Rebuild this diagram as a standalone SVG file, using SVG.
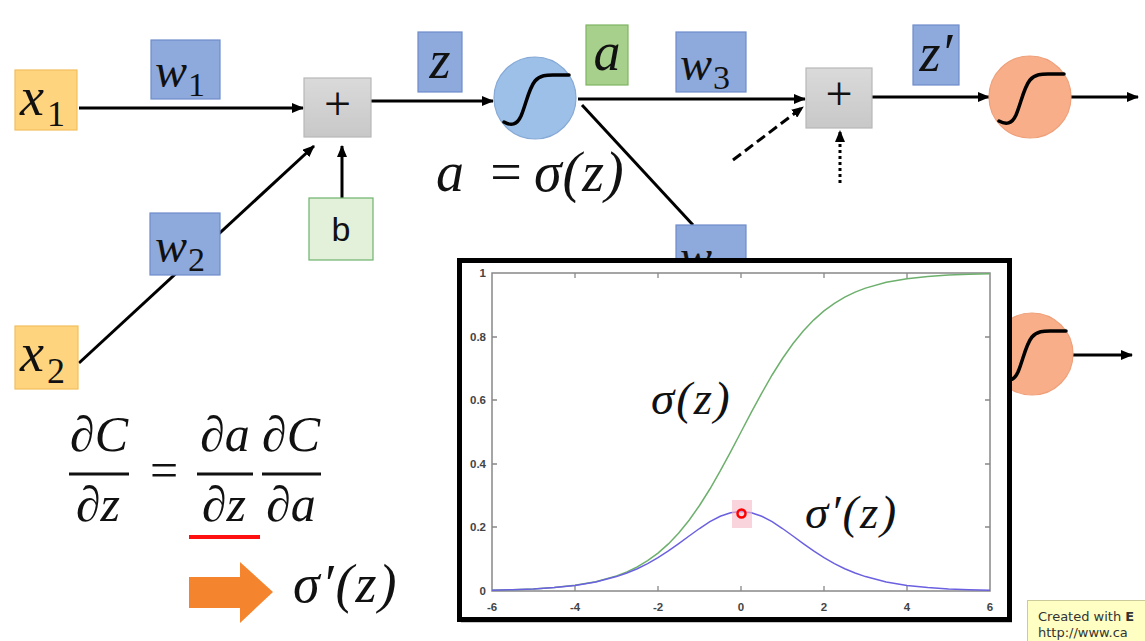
<svg xmlns="http://www.w3.org/2000/svg" width="1145" height="641" viewBox="0 0 1145 641">
<defs>
<style>
.mi{font-family:"Liberation Serif","DejaVu Serif",serif;font-style:italic;fill:#111}
.mn{font-family:"Liberation Serif","DejaVu Serif",serif;fill:#111}
.yel{fill:#FFD47E;stroke:#F2BE5C;stroke-width:1.2}
.blu{fill:#8EA9DC;stroke:#6F8CCB;stroke-width:1.2}
.gry{fill:url(#gg);stroke:#B8B8B8;stroke-width:1.2}
.grn{fill:#E3F1DA;stroke:#6DB26D;stroke-width:1.2}
.grn2{fill:#A7D08C;stroke:#7FB462;stroke-width:1.2}
.con{stroke:#000;stroke-width:3;fill:none}
.sig{stroke:#000;stroke-width:3.5;fill:none;stroke-linecap:round}
.tick{font-family:"Liberation Sans",Arial,sans-serif;font-weight:bold;font-size:11.5px;fill:#444}
.ax{stroke:#888;stroke-width:1.5;fill:none}
</style>
<linearGradient id="gg" x1="0" y1="0" x2="0" y2="1"><stop offset="0" stop-color="#DADADA"/><stop offset="1" stop-color="#C8C8C8"/></linearGradient>
<marker id="ah" viewBox="0 0 12 10" refX="11" refY="5" markerWidth="12" markerHeight="10" markerUnits="userSpaceOnUse" orient="auto">
<path d="M0,0 L12,5 L0,10 Z" fill="#000"/>
</marker>
<path id="sgm" d="M-31,24 C-24,28 -18,27 -14,18 C-9,6 -6,-10 0,-17 C5,-23 12,-23 18,-23 L34,-23"/>
</defs>
<rect width="1145" height="641" fill="#fff"/>

<g id="connectors">
<line class="con" x1="79" y1="108" x2="303" y2="108" marker-end="url(#ah)"/>
<line class="con" x1="79" y1="363" x2="314" y2="146" marker-end="url(#ah)"/>
<line class="con" x1="342" y1="198" x2="342" y2="146" marker-end="url(#ah)"/>
<line class="con" x1="371" y1="101" x2="493" y2="101" marker-end="url(#ah)"/>
<line class="con" x1="578" y1="99" x2="805" y2="99" marker-end="url(#ah)"/>
<line class="con" x1="582" y1="105" x2="693" y2="225"/>
<line class="con" x1="733" y1="160" x2="803" y2="107" stroke-dasharray="10,5" marker-end="url(#ah)"/>
<line class="con" x1="840" y1="183" x2="840" y2="131" stroke-dasharray="3,3" marker-end="url(#ah)"/>
<line class="con" x1="872" y1="97" x2="989" y2="97" marker-end="url(#ah)"/>
<line class="con" x1="1071" y1="97" x2="1138" y2="97" marker-end="url(#ah)"/>
<line class="con" x1="1073" y1="355" x2="1132" y2="355" marker-end="url(#ah)"/>
</g>

<g id="x1"><rect class="yel" x="15" y="70" width="62" height="60"/><text class="mi" x="20" y="115" font-size="54">x</text><text class="mn" x="47" y="126" font-size="36">1</text></g>
<g id="x2"><rect class="yel" x="15" y="326" width="63" height="63"/><text class="mi" x="20" y="371" font-size="54">x</text><text class="mn" x="47" y="383" font-size="36">2</text></g>
<g id="w1"><rect class="blu" x="151" y="40" width="69" height="59"/><text class="mi" x="155" y="87" font-size="48">w</text><text class="mn" x="188" y="96" font-size="34">1</text></g>
<g id="w2"><rect class="blu" x="150" y="213" width="70" height="62"/><text class="mi" x="155" y="262" font-size="48">w</text><text class="mn" x="188" y="271" font-size="34">2</text></g>
<g id="plus1"><rect class="gry" x="304" y="78" width="67" height="59"/><text class="mn" x="337.5" y="120" font-size="48" text-anchor="middle">+</text></g>
<g id="b"><rect class="grn" x="309" y="198" width="64" height="62"/><text x="341" y="241" font-size="34" text-anchor="middle" font-family="Liberation Sans,Arial,sans-serif" fill="#111">b</text></g>
<g id="z"><rect class="blu" x="418" y="32" width="44" height="60"/><text class="mi" x="440" y="78" font-size="54" text-anchor="middle">z</text></g>
<g id="neuron1"><circle cx="535" cy="98" r="41" fill="#9DC0E8" stroke="#86A9D6" stroke-width="1.2"/><use href="#sgm" class="sig" transform="translate(535,98)"/></g>
<g id="a"><rect class="grn2" x="586" y="25" width="42" height="60"/><text class="mi" x="607" y="70" font-size="54" text-anchor="middle">a</text></g>
<g id="aeq"><text class="mi" x="436" y="191" font-size="56">a</text><text class="mn" x="506" y="191" font-size="56" text-anchor="middle">=</text><text class="mi" x="534" y="191" font-size="56" letter-spacing="1">σ(z)</text></g>
<g id="w3"><rect class="blu" x="676" y="32" width="70" height="60"/><text class="mi" x="680" y="80" font-size="48">w</text><text class="mn" x="713" y="89" font-size="34">3</text></g>
<g id="w4"><rect class="blu" x="676" y="225" width="70" height="60"/><text class="mi" x="680" y="273" font-size="48">w</text></g>
<g id="plus2"><rect class="gry" x="806" y="68" width="66" height="60"/><text class="mn" x="839" y="110" font-size="48" text-anchor="middle">+</text></g>
<g id="zp"><rect class="blu" x="913" y="25" width="46" height="60"/><text class="mi" x="936" y="71" font-size="54" text-anchor="middle">z′</text></g>
<g id="neuron2"><circle cx="1030" cy="97" r="41" fill="#F8AF89" stroke="#EFA07A" stroke-width="1.2"/><use href="#sgm" class="sig" transform="translate(1030,97)"/></g>
<g id="neuron3"><circle cx="1032" cy="354" r="41" fill="#F8AF89" stroke="#EFA07A" stroke-width="1.2"/><use href="#sgm" class="sig" transform="translate(1032,354)"/></g>

<g id="formula">
<text class="mi" x="99" y="451" font-size="50" text-anchor="middle">∂C</text>
<rect x="69" y="472.5" width="60" height="3" fill="#111"/>
<text class="mi" x="98" y="521" font-size="50" text-anchor="middle">∂z</text>
<text class="mn" x="164" y="487" font-size="50" text-anchor="middle">=</text>
<text class="mi" x="225" y="451" font-size="50" text-anchor="middle">∂a</text>
<rect x="197" y="472.5" width="56" height="3" fill="#111"/>
<text class="mi" x="224" y="521" font-size="50" text-anchor="middle">∂z</text>
<text class="mi" x="291" y="451" font-size="50" text-anchor="middle">∂C</text>
<rect x="262" y="472.5" width="59" height="3" fill="#111"/>
<text class="mi" x="291" y="521" font-size="50" text-anchor="middle">∂a</text>
<rect x="189" y="535" width="71" height="4" fill="#FF1010"/>
</g>
<g id="arrow-out"><polygon points="189,577 240,577 240,562 273,592 240,623 240,608 189,608" fill="#F5842E"/><text class="mi" x="293" y="602" font-size="54" letter-spacing="2">σ′(z)</text></g>

<g id="plot">
<rect x="461" y="262" width="551" height="361" fill="#888" opacity="0.45"/>
<rect x="459.5" y="260.5" width="550" height="359" fill="#fff" stroke="#000" stroke-width="5"/>
<rect class="ax" x="492" y="273" width="498" height="318"/>
<g stroke="#888" stroke-width="1.3">
<path d="M492,337h5M492,400h5M492,464h5M492,527h5M990,337h-5M990,400h-5M990,464h-5M990,527h-5"/>
<path d="M575,591v-5M658,591v-5M741,591v-5M824,591v-5M907,591v-5M575,273v5M658,273v5M741,273v5M824,273v5M907,273v5"/>
</g>
<g class="tick" text-anchor="end">
<text x="486" y="277">1</text><text x="486" y="341">0.8</text><text x="486" y="404">0.6</text><text x="486" y="468">0.4</text><text x="486" y="531">0.2</text><text x="486" y="595">0</text>
</g>
<g class="tick" text-anchor="middle">
<text x="492" y="611">-6</text><text x="575" y="611">-4</text><text x="658" y="611">-2</text><text x="741" y="611">0</text><text x="824" y="611">2</text><text x="907" y="611">4</text><text x="990" y="611">6</text>
</g>
<polyline fill="none" stroke="#6DB06D" stroke-width="1.5" points="492,590.2 512.75,589.7 533.5,588.9 554.25,587.5 575,585.3 595.75,581.7 616.5,575.9 626.9,571.9 637.25,566.9 647.6,560.7 658,553.1 668.4,543.9 678.75,533 689.1,520.2 699.5,505.5 709.9,489 720.25,470.9 730.6,451.8 741,432 751.4,412.2 761.75,393.1 772.1,375 782.5,358.5 792.9,343.8 803.25,331 813.6,320.1 824,310.9 834.4,303.3 844.75,297.1 855.1,292.1 865.5,288.1 886.25,282.3 907,278.7 927.75,276.5 948.5,275.1 969.25,274.3 990,273.8"/>
<polyline fill="none" stroke="#6B60E0" stroke-width="1.5" points="492,590.2 512.75,589.7 533.5,588.9 554.25,587.5 575,585.4 595.75,582 616.5,576.6 626.9,573 637.25,568.7 647.6,563.6 658,557.6 668.4,550.9 678.75,543.6 689.1,536 699.5,528.5 709.9,521.7 720.25,516.3 730.6,512.7 741,511.5 751.4,512.7 761.75,516.3 772.1,521.7 782.5,528.5 792.9,536 803.25,543.6 813.6,550.9 824,557.6 834.4,563.6 844.75,568.7 855.1,573 865.5,576.6 886.25,582 907,585.4 927.75,587.5 948.5,588.9 969.25,589.7 990,590.2"/>
<rect x="732" y="500" width="20" height="28" fill="#F7B8C4" opacity="0.6"/>
<circle cx="741.5" cy="513.5" r="4" fill="none" stroke="#FF0000" stroke-width="2.5"/>
<text class="mi" x="651" y="414" font-size="47" letter-spacing="2">σ(z)</text>
<text class="mi" x="805" y="528" font-size="47" letter-spacing="2">σ′(z)</text>
</g>

<g id="watermark">
<rect x="1027.5" y="600.5" width="130" height="50" fill="#FFFFC4" stroke="#CACA9A" stroke-width="1"/>
<text x="1038" y="621" font-family="DejaVu Sans,Verdana,sans-serif" font-size="13" fill="#333">Created with <tspan font-weight="bold">E</tspan></text>
<text x="1038" y="637" font-family="DejaVu Sans,Verdana,sans-serif" font-size="13" fill="#333">http://www.ca</text>
</g>
</svg>
